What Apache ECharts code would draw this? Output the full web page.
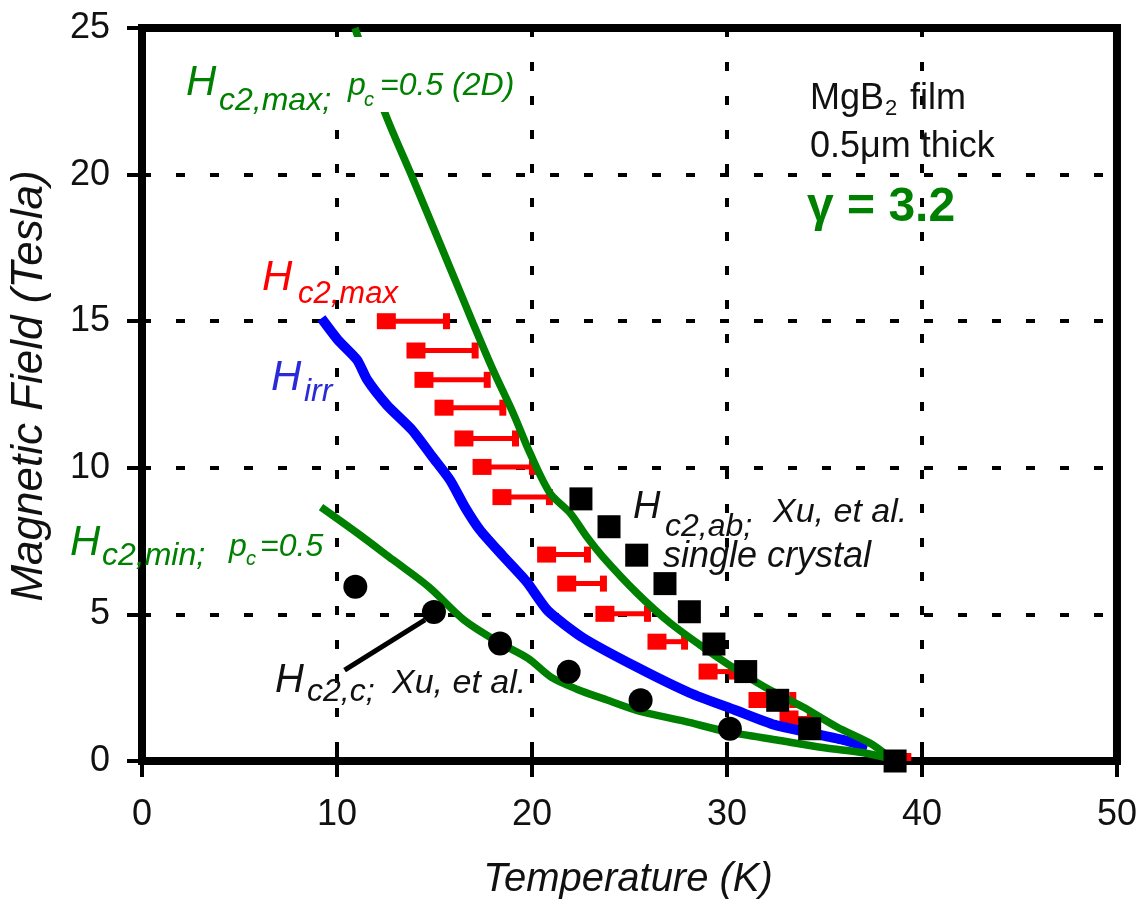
<!DOCTYPE html>
<html>
<head>
<meta charset="utf-8">
<script src="https://cdn.jsdelivr.net/npm/echarts@6/dist/echarts.min.js"></script>
<style>html,body{margin:0;padding:0;background:#fff;}#c{width:1140px;height:905px;}</style>
</head>
<body>
<div id="c"></div>
<script>
// ---- data (Temperature in K, Field in Tesla) ----
const xTicks = [0, 10, 20, 30, 40, 50];
const yTicks = [0, 5, 10, 15, 20, 25];

// Hc2,max ; pc = 0.5 (2D)  (upper green curve)
const hc2max2dT = [10.92, 12.46, 13.9, 15.28, 16.31, 16.97, 18.0, 19.03, 19.9, 20.92, 21.95, 22.82, 23.64, 25.38, 27.08, 28.97, 30.51, 32.21, 33.9, 35.64, 37.33, 38.1];
const hc2max2dH = [25.0, 22.1, 19.85, 17.65, 16.0, 14.94, 13.34, 11.87, 10.5, 9.14, 8.46, 7.64, 6.96, 5.73, 4.71, 3.79, 3.1, 2.42, 1.84, 1.16, 0.61, 0.25];

// Hc2,min ; pc = 0.5  (lower green curve)
const hc2minT = [9.18, 11.03, 12.87, 14.72, 16.51, 18.36, 19.8, 21.0, 22.3, 23.85, 25.5, 27.85, 30.0, 32.7, 35.0, 37.0, 38.1];
const hc2minH = [8.66, 7.78, 6.86, 5.93, 4.81, 4.02, 3.5, 2.85, 2.45, 2.08, 1.7, 1.35, 1.0, 0.7, 0.45, 0.28, 0.12];

// Hirr (blue curve)
const hirrT = [9.2, 10.05, 11.03, 11.55, 12.56, 13.85, 14.9, 15.8, 16.56, 17.33, 18.5, 19.74, 20.82, 22.62, 25.38, 28.1, 30.41, 32.46, 35.95, 37.2];
const hirrH = [15.1, 14.36, 13.68, 13.0, 12.14, 11.29, 10.37, 9.58, 8.66, 7.88, 7.0, 6.1, 5.12, 4.2, 3.2, 2.32, 1.74, 1.23, 0.72, 0.48];

// Hc2,max measured (red squares with one-sided bars to the right)
const redT    = [12.53, 14.05, 14.46, 15.49, 16.51, 17.44, 18.46, 20.75, 21.78, 23.74, 26.41, 29.03, 31.59, 33.18, 38.5];
const redH    = [15.0, 14.0, 13.0, 12.05, 11.0, 10.03, 9.0, 7.04, 6.05, 5.02, 4.07, 3.05, 2.08, 1.45, 0.0];
const redTEnd = [15.64, 17.11, 17.73, 18.53, 19.18, 20.05, 20.92, 22.87, 23.69, 25.95, 27.85, 30.3, 33.4, 34.3, 39.3];

// Hc2,ab ; Xu et al. single crystal (black squares)
const abT = [22.51, 23.95, 25.37, 26.82, 28.07, 29.33, 30.96, 32.6, 34.24, 38.62];
const abH = [8.94, 7.99, 7.02, 6.05, 5.09, 3.99, 3.05, 2.07, 1.1, 0.0];

// Hc2,c ; Xu et al. (black circles)
const cT = [10.94, 14.97, 18.36, 21.88, 25.57, 30.15];
const cH = [5.94, 5.08, 4.01, 3.04, 2.07, 1.1];

// pointer from the Hc2,c label to a circle
const pointerT = [10.39, 14.51];
const pointerH = [3.1, 4.81];

// ---- chart ----
const FF = '"Liberation Sans", Arial, sans-serif';
const GREEN = '#008000', RED = '#ff0000', BLUE = '#0000ff';
const zip = (a, b) => a.map((v, i) => [v, b[i]]);

function txt(x, bl, s, size, color, style) {
  return {
    type: 'text', z: 101, x: x, y: bl - 0.35 * size,
    style: { text: s, fill: color, font: (style || 'normal') + ' ' + size + 'px ' + FF, align: 'left', verticalAlign: 'middle' }
  };
}

const chart = echarts.init(document.getElementById('c'), null, { renderer: 'canvas' });

const axisCommon = {
  type: 'value',
  axisLine: { show: true, onZero: false, lineStyle: { color: '#000', width: 8 } },
  axisTick: { show: true, length: 16, lineStyle: { color: '#000', width: 4 } },
  splitLine: { show: true, lineStyle: { color: '#000', width: 4, type: [9, 25] } },
  axisLabel: { color: '#111', fontSize: 36, fontFamily: FF }
};

const option = {
  backgroundColor: '#fff',
  animation: false,
  grid: { left: 142, top: 28, width: 975, height: 733, show: true, borderColor: '#000', borderWidth: 8, backgroundColor: 'transparent' },
  xAxis: [
    Object.assign({}, axisCommon, {
      min: xTicks[0], max: xTicks[xTicks.length - 1], interval: xTicks[1] - xTicks[0], position: 'bottom',
      axisLabel: Object.assign({}, axisCommon.axisLabel, { margin: 36 })
    }),
    {
      type: 'value', min: xTicks[0], max: xTicks[xTicks.length - 1], interval: xTicks[1] - xTicks[0], position: 'bottom',
      axisLine: { show: false }, axisLabel: { show: false }, splitLine: { show: false },
      axisTick: { show: true, inside: true, length: 16, lineStyle: { color: '#000', width: 4 } }
    }
  ],
  yAxis: Object.assign({}, axisCommon, {
    min: yTicks[0], max: yTicks[yTicks.length - 1], interval: yTicks[1] - yTicks[0],
    axisTick: { show: true, length: 15, lineStyle: { color: '#000', width: 4 } },
    axisLabel: Object.assign({}, axisCommon.axisLabel, { margin: 32 })
  }),
  series: [
    {
      type: 'custom', z: 2, clip: true,
      data: redT.map((t, i) => [t, redH[i], redTEnd[i]]),
      encode: { x: [0, 2], y: 1 },
      renderItem: function (params, api) {
        const p0 = api.coord([api.value(0), api.value(1)]);
        const p1 = api.coord([api.value(2), api.value(1)]);
        return {
          type: 'group', children: [
            { type: 'line', shape: { x1: p0[0], y1: p0[1], x2: p1[0], y2: p1[1] }, style: { stroke: RED, lineWidth: 5 } },
            { type: 'rect', shape: { x: p1[0] - 4, y: p1[1] - 8, width: 7, height: 16 }, style: { fill: RED } },
            { type: 'rect', shape: { x: p0[0] - 9.5, y: p0[1] - 8, width: 19, height: 16 }, style: { fill: RED } }
          ]
        };
      }
    },
    { type: 'line', z: 3, data: zip(hirrT, hirrH), smooth: 0.2, showSymbol: false, symbol: 'none', lineStyle: { color: BLUE, width: 10, opacity: 1 } },
    { type: 'line', z: 4, data: zip(hc2max2dT, hc2max2dH), smooth: 0.3, showSymbol: false, symbol: 'none', lineStyle: { color: GREEN, width: 7.5, opacity: 1 } },
    { type: 'line', z: 4, data: zip(hc2minT, hc2minH), smooth: 0.3, showSymbol: false, symbol: 'none', lineStyle: { color: GREEN, width: 7.5, opacity: 1 } },
    { type: 'line', z: 5, data: zip(pointerT, pointerH), showSymbol: false, symbol: 'none', lineStyle: { color: '#000', width: 5, opacity: 1 } },
    { type: 'scatter', z: 6, data: zip(abT, abH), symbol: 'rect', symbolSize: 23, itemStyle: { color: '#000', opacity: 1 } },
    { type: 'scatter', z: 6, data: zip(cT, cH), symbol: 'circle', symbolSize: 24, itemStyle: { color: '#000', opacity: 1 } }
  ],
  graphic: [
    // white patch behind the top label
    { type: 'rect', z: 100, shape: { x: 182, y: 37, width: 343, height: 75 }, style: { fill: '#fff' } },
    // axis titles
    { type: 'text', z: 101, x: 628, y: 880, style: { text: 'Temperature (K)', fill: '#111', font: 'italic 40px ' + FF, align: 'center', verticalAlign: 'middle' } },
    { type: 'text', z: 101, x: 30, y: 386, rotation: Math.PI / 2, style: { text: 'Magnetic Field (Tesla)', fill: '#111', font: 'italic 44px ' + FF, align: 'center', verticalAlign: 'middle' } },
    // Hc2,max ; pc=0.5 (2D)
    txt(186, 98, 'H', 42, GREEN, 'italic'),
    txt(219, 112, 'c2,max;', 32, GREEN, 'italic'),
    txt(348, 97, 'p', 32, GREEN, 'italic'),
    txt(364, 107, 'c', 20, GREEN, 'italic'),
    txt(380, 97, '=0.5 (2D)', 32, GREEN, 'italic'),
    // red Hc2,max
    txt(262, 293, 'H', 42, RED, 'italic'),
    txt(298, 305, 'c2,max', 31, RED, 'italic'),
    // Hirr
    txt(271, 393, 'H', 42, '#2a2ad8', 'italic'),
    txt(304, 403, 'irr', 32, '#2a2ad8', 'italic'),
    // Hc2,min ; pc=0.5
    txt(70, 558, 'H', 42, GREEN, 'italic'),
    txt(102, 567, 'c2,min;', 32, GREEN, 'italic'),
    txt(229, 558, 'p', 32, GREEN, 'italic'),
    txt(246, 566, 'c', 20, GREEN, 'italic'),
    txt(260, 558, '=0.5', 32, GREEN, 'italic'),
    // Hc2,ab ; Xu et al. single crystal
    txt(633, 521, 'H', 38, '#111', 'italic'),
    txt(665, 538, 'c2,ab;', 32, '#111', 'italic'),
    txt(773, 524, 'Xu, et al.', 34, '#111', 'italic'),
    txt(663, 570, 'single crystal', 36, '#111', 'italic'),
    // Hc2,c ; Xu et al.
    txt(275, 695, 'H', 40, '#111', 'italic'),
    txt(307, 703, 'c2,c;', 32, '#111', 'italic'),
    txt(392, 695, 'Xu, et al.', 34, '#111', 'italic'),
    // sample info
    txt(810, 112, 'MgB', 36, '#111'),
    txt(885, 117, '2', 22, '#111'),
    txt(910, 112, 'film', 36, '#111'),
    txt(810, 160, '0.5μm thick', 36, '#111'),
    txt(807, 225, 'γ = 3.2', 48, GREEN, 'bold')
  ]
};
chart.setOption(option);
</script>
</body>
</html>
